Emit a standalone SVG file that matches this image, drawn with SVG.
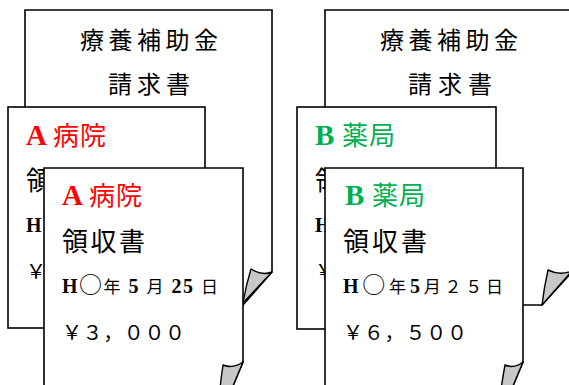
<svg xmlns="http://www.w3.org/2000/svg" width="569" height="385" viewBox="0 0 569 385">
<style>
.page{fill:#fff;stroke:#000;stroke-width:1.6;stroke-linejoin:miter}
.flap{fill:#c8c8c8;stroke:#000;stroke-width:1.4;stroke-linejoin:round}
text{font-family:"Noto Sans CJK JP","Liberation Serif",serif;fill:#000}
.lat{font-family:"Liberation Serif","Noto Sans CJK JP",serif;font-weight:bold}
.t1{font-size:24px}
.t2{font-size:26px}
.t3{font-size:17px}
.amt{font-size:20px}
.circ{font-size:23px}
.big{font-size:29px}
.mid{font-size:20px}
.red{fill:#ff0000}
.green{fill:#00b050}
</style>
<rect width="569" height="385" fill="#fff"/>
<g id="left-claim">
<path class="page" d="M25,10 H272 V272 L243,305 H25 Z"/>
<path class="flap" d="M251,269 Q262,276 272,272 L243,303 Q246,285 251,269 Z"/>
<text class="t1" x="80" y="49" textLength="138" lengthAdjust="spacing">療養補助金</text>
<text class="t1" x="108" y="93" textLength="82" lengthAdjust="spacing">請求書</text>
</g>
<g id="left-receipt-back">
<rect class="page" x="8" y="107" width="197" height="221"/>
<text class="red" y="145"><tspan class="lat big" x="26">A</tspan><tspan class="t2" x="53" letter-spacing="1">病院</tspan></text>
<text class="t2" x="26" y="190">領</text>
<text class="lat mid" x="26" y="232">H</text>
<text class="amt" x="26" y="279">￥</text>
</g>
<g id="left-receipt-front">
<path class="page" d="M44,168 H243 V362 L217,424 H44 Z"/>
<path class="flap" d="M223,365 Q233,369 243,362 L217,424 Q219,392 223,365 Z"/>
<text class="red" y="205"><tspan class="lat big" x="62">A</tspan><tspan class="t2" x="89" letter-spacing="1">病院</tspan></text>
<text class="t2" x="62" y="251" textLength="83" lengthAdjust="spacing">領収書</text>
<text class="t3" x="62" y="293" textLength="156" lengthAdjust="spacing"><tspan class="lat mid">H</tspan><tspan class="circ">○</tspan>年<tspan class="lat mid"> 5 </tspan>月<tspan class="lat mid"> 25 </tspan>日</text>
<text class="amt" x="62" y="340" textLength="123" lengthAdjust="spacing">￥３，０００</text>
</g>
<g id="right-claim">
<path class="page" d="M325,10 H572 V272 L542,305 H325 Z"/>
<path class="flap" d="M548,270 Q560,276 572,271 L542,305 Q544,288 548,270 Z"/>
<text class="t1" x="380" y="49" textLength="138" lengthAdjust="spacing">療養補助金</text>
<text class="t1" x="408" y="93" textLength="84" lengthAdjust="spacing">請求書</text>
</g>
<g id="right-receipt-back">
<rect class="page" x="297" y="107" width="199" height="222"/>
<text class="green" y="145"><tspan class="lat big" x="315">B</tspan><tspan class="t2" x="342" letter-spacing="1">薬局</tspan></text>
<text class="t2" x="315" y="190">領</text>
<text class="lat mid" x="315" y="232">H</text>
<text class="amt" x="315" y="279">￥</text>
</g>
<g id="right-receipt-front">
<path class="page" d="M325,168 H523 V362 L497,424 H325 Z"/>
<path class="flap" d="M505,365 Q514,369 523,362 L497,424 Q500,392 505,365 Z"/>
<text class="green" y="205"><tspan class="lat big" x="345">B</tspan><tspan class="t2" x="372" letter-spacing="1">薬局</tspan></text>
<text class="t2" x="343" y="251" textLength="84" lengthAdjust="spacing">領収書</text>
<text class="t3" x="343" y="293" textLength="160" lengthAdjust="spacing"><tspan class="lat mid">H</tspan><tspan class="circ">○</tspan>年<tspan class="lat mid">5</tspan>月２５日</text>
<text class="amt" x="343" y="340" textLength="124" lengthAdjust="spacing">￥６，５００</text>
</g>
</svg>
